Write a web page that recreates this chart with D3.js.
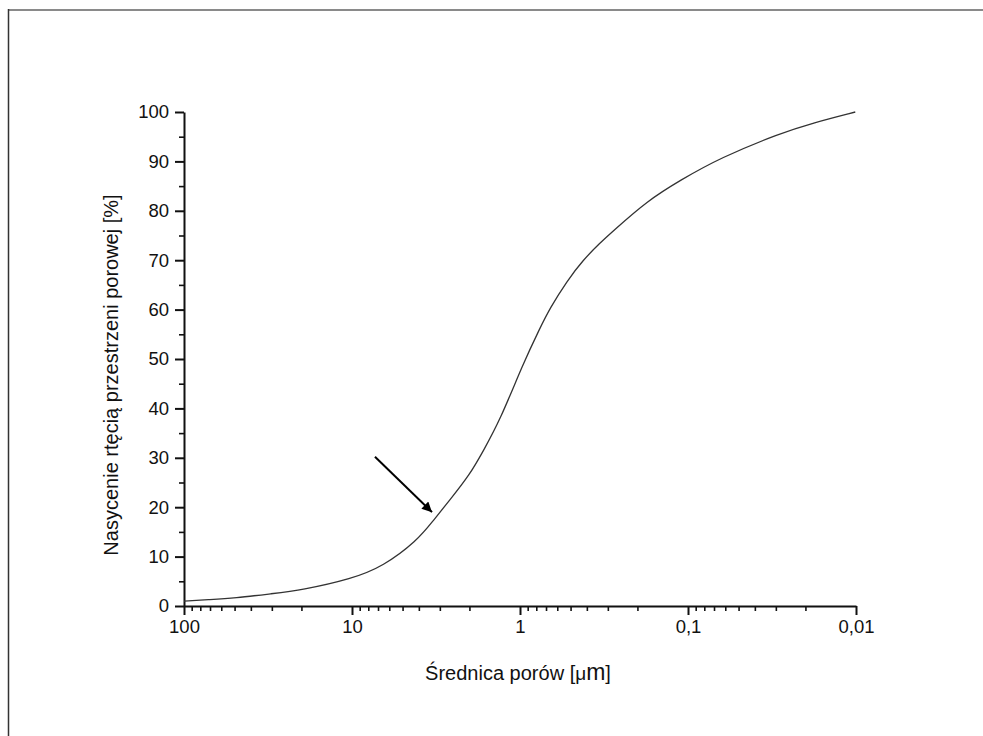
<!DOCTYPE html>
<html>
<head>
<meta charset="utf-8">
<script src="https://cdn.jsdelivr.net/npm/d3@7"></script>
<style>
html,body{margin:0;padding:0;background:#fff;}
svg{display:block;}
text{font-family:"Liberation Sans",Arial,sans-serif;fill:#111;}
</style>
</head>
<body>
<svg id="chart" width="983" height="736"></svg>
<script>
// Data (pore diameter in µm, saturation in %)
const diameters = [100, 70, 50, 30, 20, 10, 6.54, 4.10, 3.30, 2.61, 1.99, 1.66, 1.315, 0.96, 0.76, 0.663, 0.525, 0.422, 0.334, 0.279, 0.175, 0.111, 0.0645, 0.0283, 0.018, 0.0101];
const saturation = [1.0, 1.3, 1.6, 2.5, 3.2, 5.5, 8.0, 13.2, 17.2, 21.5, 26.6, 31.3, 37.6, 49.0, 56.3, 60.3, 65.8, 70.0, 73.5, 75.9, 82.0, 86.2, 90.7, 95.7, 97.8, 100];
const xMajorTicks = [100, 10, 1, 0.1, 0.01];
const xTickLabels = ["100", "10", "1", "0,1", "0,01"];
const yMajorTicks = [0, 10, 20, 30, 40, 50, 60, 70, 80, 90, 100];
const yMinorTicks = [5, 15, 25, 35, 45, 55, 65, 75, 85, 95];
const arrowFrom = [7.3, 30.2];
const arrowTo = [3.34, 19.0];
const xTitle = "Średnica porów [";
const xTitleUnitMu = "μ";
const xTitleUnitM = "m";
const yTitle = "Nasycenie rtęcią przestrzeni porowej [%]";

const svg = d3.select("#chart");

// Frame
svg.append("line").attr("x1", 8).attr("x2", 983).attr("y1", 10).attr("y2", 10)
  .attr("stroke", "#8a8a8a").attr("stroke-width", 2);
svg.append("line").attr("x1", 8.5).attr("x2", 8.5).attr("y1", 9).attr("y2", 736)
  .attr("stroke", "#333").attr("stroke-width", 1.5);

const x = d3.scaleLog().domain([100, 0.01]).range([184, 856]);
const y = d3.scaleLinear().domain([0, 100]).range([606, 112]);

// minor x ticks
const xMinor = [];
[10, 1, 0.1, 0.01].forEach(b => { for (let k = 2; k <= 9; k++) xMinor.push(b * k); });

const xAxis = d3.axisBottom(x).tickValues(xMajorTicks)
  .tickFormat((d, i) => xTickLabels[i]).tickSizeInner(9).tickSizeOuter(0).tickPadding(5);
const gx = svg.append("g").attr("transform", "translate(0,606)").call(xAxis);
gx.selectAll(".tick text").style("font-size", "18.5px").style("font-family", "Liberation Sans, Arial, sans-serif").attr("fill", "#111");
gx.select(".domain").attr("stroke-width", 2).attr("stroke", "#111");
gx.selectAll(".tick line").attr("stroke-width", 2).attr("stroke", "#111");

const gxm = svg.append("g").attr("transform", "translate(0,606)")
  .call(d3.axisBottom(x).tickValues(xMinor).tickFormat("").tickSizeInner(5).tickSizeOuter(0));
gxm.select(".domain").remove();
gxm.selectAll(".tick line").attr("stroke-width", 1.6).attr("stroke", "#111");

const yAxis = d3.axisLeft(y).tickValues(yMajorTicks).tickFormat(d3.format("d"))
  .tickSizeInner(9).tickSizeOuter(0).tickPadding(6);
const gy = svg.append("g").attr("transform", "translate(184,0)").call(yAxis);
gy.selectAll(".tick text").style("font-size", "18.5px").style("font-family", "Liberation Sans, Arial, sans-serif").attr("fill", "#111");
gy.select(".domain").attr("stroke-width", 2).attr("stroke", "#111");
gy.selectAll(".tick line").attr("stroke-width", 2).attr("stroke", "#111");

const gym = svg.append("g").attr("transform", "translate(184,0)")
  .call(d3.axisLeft(y).tickValues(yMinorTicks).tickFormat("").tickSizeInner(5).tickSizeOuter(0));
gym.select(".domain").remove();
gym.selectAll(".tick line").attr("stroke-width", 1.6).attr("stroke", "#111");

// Curve
const pts = diameters.map((d, i) => [d, saturation[i]]);
const line = d3.line().x(d => x(d[0])).y(d => y(d[1])).curve(d3.curveBasis);
svg.append("path").datum(pts).attr("d", line)
  .attr("fill", "none").attr("stroke", "#333").attr("stroke-width", 1.3);

// Arrow
svg.append("defs").append("marker").attr("id", "ah")
  .attr("viewBox", "0 0 10 10").attr("refX", 10).attr("refY", 5)
  .attr("markerWidth", 7).attr("markerHeight", 5).attr("markerUnits", "strokeWidth")
  .attr("orient", "auto")
  .append("path").attr("d", "M0,0 L10,5 L0,10 z").attr("fill", "#000");
svg.append("line")
  .attr("x1", x(arrowFrom[0])).attr("y1", y(arrowFrom[1]))
  .attr("x2", x(arrowTo[0])).attr("y2", y(arrowTo[1]))
  .attr("stroke", "#000").attr("stroke-width", 2).attr("marker-end", "url(#ah)");

// Titles
const xt = svg.append("text").attr("x", 518).attr("y", 680).attr("text-anchor", "middle")
  .style("font-size", "20px");
xt.append("tspan").text(xTitle);
xt.append("tspan").text(xTitleUnitMu).style("font-size", "19px");
xt.append("tspan").text(xTitleUnitM).style("font-size", "23px");
xt.append("tspan").text("]");

svg.append("text").attr("transform", "translate(118,375) rotate(-90)")
  .attr("text-anchor", "middle").style("font-size", "20px").text(yTitle);
</script>
</body>
</html>
